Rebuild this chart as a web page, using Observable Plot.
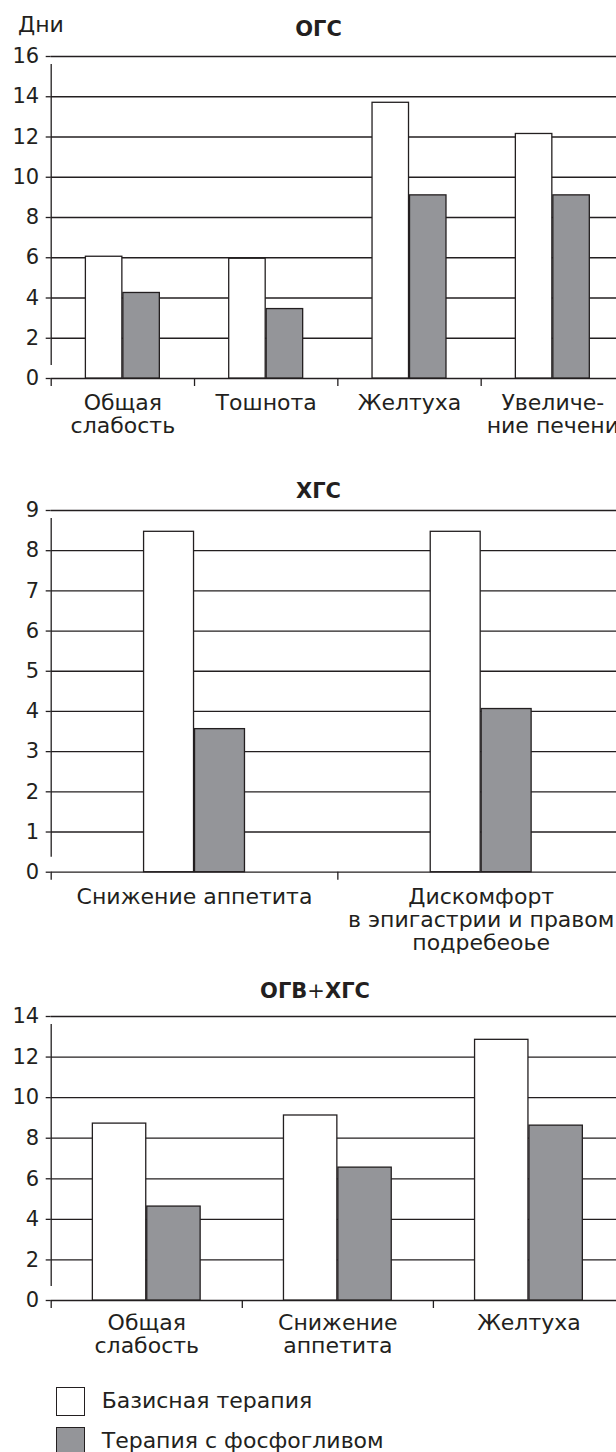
<!DOCTYPE html>
<html>
<head>
<meta charset="utf-8">
<script src="https://cdn.jsdelivr.net/npm/d3@7"></script>
<script src="https://cdn.jsdelivr.net/npm/@observablehq/plot@0.6"></script>
<style>
  html, body { margin: 0; padding: 0; background: #fff; }
  #root { position: relative; width: 616px; height: 1452px; overflow: hidden; font-family: "DejaVu Sans", sans-serif; color: #231f20; }
  .panel { position: absolute; left: 0; }
  .ttl { position: absolute; transform: translate(-50%, -50%); line-height: 1; white-space: nowrap; font-size: 21px; }
  .lab { position: absolute; line-height: 1; white-space: nowrap; font-size: 22px; transform: translateY(-50%); }
  .box { position: absolute; width: 27px; height: 27px; border: 1.3px solid #231f20; }
</style>
</head>
<body>
<div id="root"></div>
<script>
// ---- data ----
const series = ["Базисная терапия", "Терапия с фосфогливом"];

const cats1 = ["Общая слабость", "Тошнота", "Желтуха", "Увеличение печени"];
const labels1 = ["Общая\nслабость", "Тошнота", "Желтуха", "Увеличе-\nние печени"];
const base1 = [6.05, 5.95, 13.7, 12.15];
const fosf1 = [4.25, 3.45, 9.1, 9.1];
const yTicks1 = [0, 2, 4, 6, 8, 10, 12, 14, 16];

const cats2 = ["Снижение аппетита", "Дискомфорт в эпигастрии и правом подребеоье"];
const labels2 = ["Снижение аппетита", "Дискомфорт\nв эпигастрии и правом\nподребеоье"];
const base2 = [8.47, 8.47];
const fosf2 = [3.56, 4.06];
const yTicks2 = [0, 1, 2, 3, 4, 5, 6, 7, 8, 9];

const cats3 = ["Общая слабость", "Снижение аппетита", "Желтуха"];
const labels3 = ["Общая\nслабость", "Снижение\nаппетита", "Желтуха"];
const base3 = [8.72, 9.12, 12.85];
const fosf3 = [4.63, 6.55, 8.62];
const yTicks3 = [0, 2, 4, 6, 8, 10, 12, 14];

const titles = ["ОГС", "ХГС", "ОГВ+ХГС"];
const yUnit = "Дни";

// ---- styles ----
const INK = "#231f20";
const GRAY = "#949599";
const root = document.getElementById("root");

function panel(cfg) {
  const {cats, labels, base, fosf, yTicks, top, height, mTop, mBottom, padIn, axisUp, labelDy} = cfg;
  const x0 = 50.7, x1 = 624;
  const step = (x1 - x0) / cats.length;
  const bw = step * (1 - padIn);
  const rows = cats.map((c, i) => ({cat: c, label: labels[i], base: base[i], fosf: fosf[i]}));
  const yMax = yTicks[yTicks.length - 1];
  const chart = Plot.plot({
    width: 616,
    height,
    marginLeft: x0,
    marginRight: 0,
    marginTop: mTop,
    marginBottom: mBottom,
    style: {background: "transparent", fontFamily: "DejaVu Sans", fontSize: "21px", color: INK, overflow: "visible"},
    x: {type: "band", domain: cats, range: [x0, x1], paddingInner: padIn, paddingOuter: padIn / 2, align: 0.5, round: false, axis: null},
    y: {domain: [0, yMax], axis: null},
    marks: [
      Plot.ruleY(yTicks, {stroke: INK, strokeWidth: 1.3}),
      Plot.axisY({ticks: yTicks, tickSize: 5, tickPadding: 7, fontSize: 21, stroke: INK, strokeWidth: 1.3, fill: INK, label: null, tickFormat: d => String(d)}),
      Plot.ruleX([cats[0]], {x: d => d, dx: -step / 2, y1: 0, y2: yMax, insetTop: -axisUp, insetBottom: -8, stroke: INK, strokeWidth: 1.3}),
      Plot.ruleX(cats, {x: d => d, dx: -step / 2, y1: 0, y2: 0, insetBottom: -8, stroke: INK, strokeWidth: 1.3}),
      Plot.barY(rows, {x: "cat", y: "base", fill: "white", stroke: INK, strokeWidth: 1.3, insetRight: bw / 2 + 0.5}),
      Plot.barY(rows, {x: "cat", y: "fosf", fill: GRAY, stroke: INK, strokeWidth: 1.3, insetLeft: bw / 2 + 0.5}),
      Plot.text(rows, {x: "cat", frameAnchor: "bottom", text: "label", lineAnchor: "top", dy: labelDy, lineHeight: 1.06, fontSize: 22, fill: INK})
    ]
  });
  const wrap = document.createElement("div");
  wrap.className = "panel";
  wrap.style.top = top + "px";
  wrap.appendChild(chart);
  root.appendChild(wrap);
}

panel({cats: cats1, labels: labels1, base: base1, fosf: fosf1, yTicks: yTicks1, top: 0, height: 460, mTop: 56, mBottom: 82, padIn: 0.484, axisUp: 13, labelDy: 15});
panel({cats: cats2, labels: labels2, base: base2, fosf: fosf2, yTicks: yTicks2, top: 470, height: 500, mTop: 40, mBottom: 98.3, padIn: 0.648, axisUp: 15, labelDy: 15});
panel({cats: cats3, labels: labels3, base: base3, fosf: fosf3, yTicks: yTicks3, top: 970, height: 400, mTop: 46, mBottom: 70, padIn: 0.436, axisUp: 14, labelDy: 13});

// ---- titles ----
function addTitle(html, x, y) {
  const d = document.createElement("div");
  d.className = "ttl";
  d.style.left = x + "px";
  d.style.top = y + "px";
  d.innerHTML = html;
  root.appendChild(d);
}
addTitle("<b>" + titles[0] + "</b>", 318.5, 29);
addTitle("<b>" + titles[1] + "</b>", 318.5, 491);
const t3 = titles[2].split("+");
addTitle("<b>" + t3[0] + "</b>+<b>" + t3[1] + "</b>", 315, 991);

const unit = document.createElement("div");
unit.className = "lab";
unit.style.left = "18px";
unit.style.top = "25px";
unit.textContent = yUnit;
root.appendChild(unit);

// ---- legend ----
const legendTop = [1386.7, 1426.7];
series.forEach((s, i) => {
  const b = document.createElement("div");
  b.className = "box";
  b.style.left = "55.7px";
  b.style.top = legendTop[i] + "px";
  b.style.background = i === 0 ? "white" : GRAY;
  root.appendChild(b);
  const t = document.createElement("div");
  t.className = "lab";
  t.style.left = "101.7px";
  t.style.top = (legendTop[i] + 14.5) + "px";
  t.textContent = s;
  root.appendChild(t);
});
</script>
</body>
</html>
